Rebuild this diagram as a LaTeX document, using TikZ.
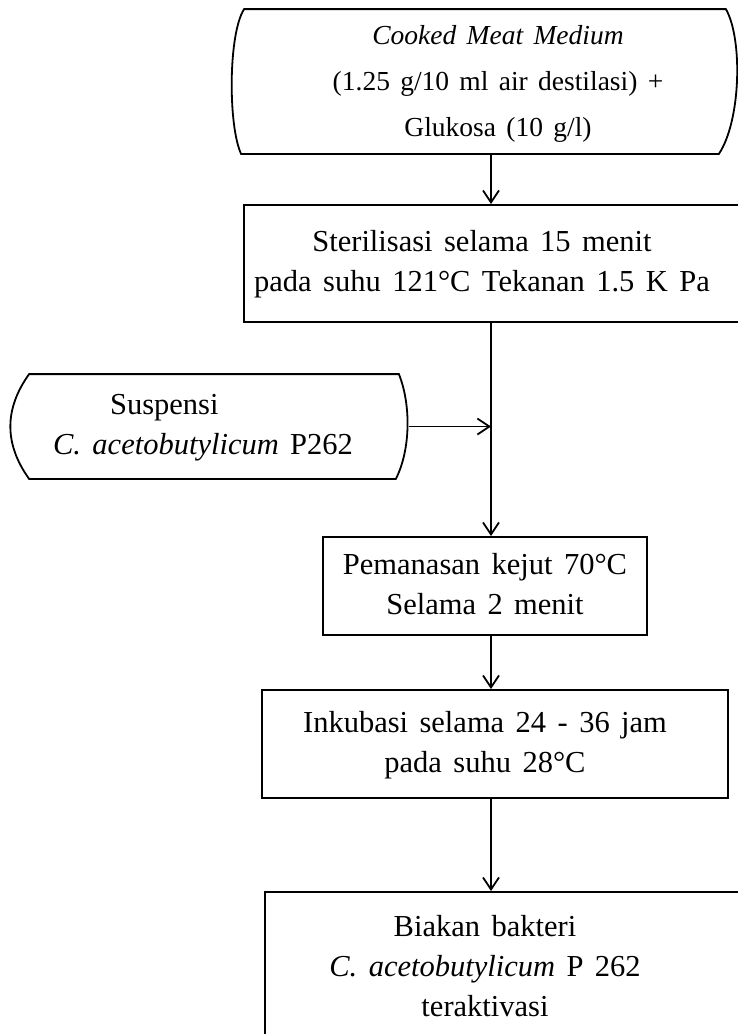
\documentclass[tikz,border=0pt]{standalone}
\usepackage{fontspec}
\setmainfont[WordSpace=1.5]{Liberation Serif}
\usetikzlibrary{arrows.meta}
\newcommand{\txtlines}[1]{\begin{tabular}{@{}c@{}}#1\end{tabular}}

\begin{document}
\begin{tikzpicture}[
  x=1pt, y=-1pt,
  line width=1.8pt,
  box/.style={draw, inner sep=0pt, font=\fontsize{30.5}{40}\selectfont},
  curvedbox/.style={inner sep=0pt, font=\fontsize{30.5}{40}\selectfont},
  arrow/.style={-{Straight Barb[length=12pt,width=16pt]}}
]
  \useasboundingbox (0,0) rectangle (738,1034);

  % medium
  \node[curvedbox, minimum width=506pt, minimum height=143pt, font=\fontsize{27.5}{46}\selectfont] (cmm) at (485,81.5)
    {\hspace*{26pt}\txtlines{\textit{Cooked Meat Medium}\\(1.25 g/10 ml air destilasi) +\\Glukosa (10 g/l)}};
  \draw ([xshift=13pt]cmm.north west) -- ([xshift=-13pt]cmm.north east)
    .. controls ([xshift=4pt,yshift=-30pt]cmm.north east) and ([xshift=2pt,yshift=33pt]cmm.south east) .. ([xshift=-20pt]cmm.south east)
    -- ([xshift=10pt]cmm.south west)
    .. controls ([xshift=-3pt,yshift=28pt]cmm.south west) and ([xshift=-3pt,yshift=-25pt]cmm.north west) .. cycle;

  \node[box, minimum width=498pt, minimum height=117pt] (steril) at (493,263.5)
    {\txtlines{Sterilisasi selama 15 menit\\pada suhu 121°C Tekanan 1.5 K Pa}\hspace*{22pt}};

  % inokulum
  \node[curvedbox, minimum width=398pt, minimum height=103pt] (susp) at (209,426.5)
    {\begin{tabular}{@{}l@{}}\hspace*{57pt}Suspensi\\\textit{C. acetobutylicum} P262\end{tabular}\hspace*{12pt}};
  \draw ([xshift=20pt]susp.north west) -- ([xshift=-10pt]susp.north east)
    .. controls ([xshift=2pt,yshift=-30pt]susp.north east) and ([xshift=2pt,yshift=30pt]susp.south east) .. ([xshift=-13pt]susp.south east)
    -- ([xshift=20pt]susp.south west)
    .. controls ([xshift=-5pt,yshift=35pt]susp.south west) and ([xshift=-5pt,yshift=-35pt]susp.north west) .. cycle;

  \node[box, minimum width=324pt, minimum height=98pt] (panas) at (485,586)
    {\txtlines{Pemanasan kejut 70°C\\Selama 2 menit}};
  \node[box, minimum width=466pt, minimum height=108pt] (inkub) at (495,744)
    {\txtlines{Inkubasi selama 24 - 36 jam\\pada suhu 28°C}\hspace*{20pt}};
  \node[box, minimum width=477pt, minimum height=153pt] (biakan) at (503.5,968.5)
    {\txtlines{Biakan bakteri\\\textit{C. acetobutylicum} P 262\\teraktivasi}\hspace*{37pt}};

  \coordinate (axis) at (491,0);
  \draw[arrow] (cmm.south -| axis) -- (steril.north -| axis);
  \draw[arrow] (steril.south -| axis) -- (panas.north -| axis);
  \draw[arrow] (susp.east) -- (susp.east -| axis);
  \draw[arrow] (panas.south -| axis) -- (inkub.north -| axis);
  \draw[arrow] (inkub.south -| axis) -- (biakan.north -| axis);
\end{tikzpicture}
\end{document}
